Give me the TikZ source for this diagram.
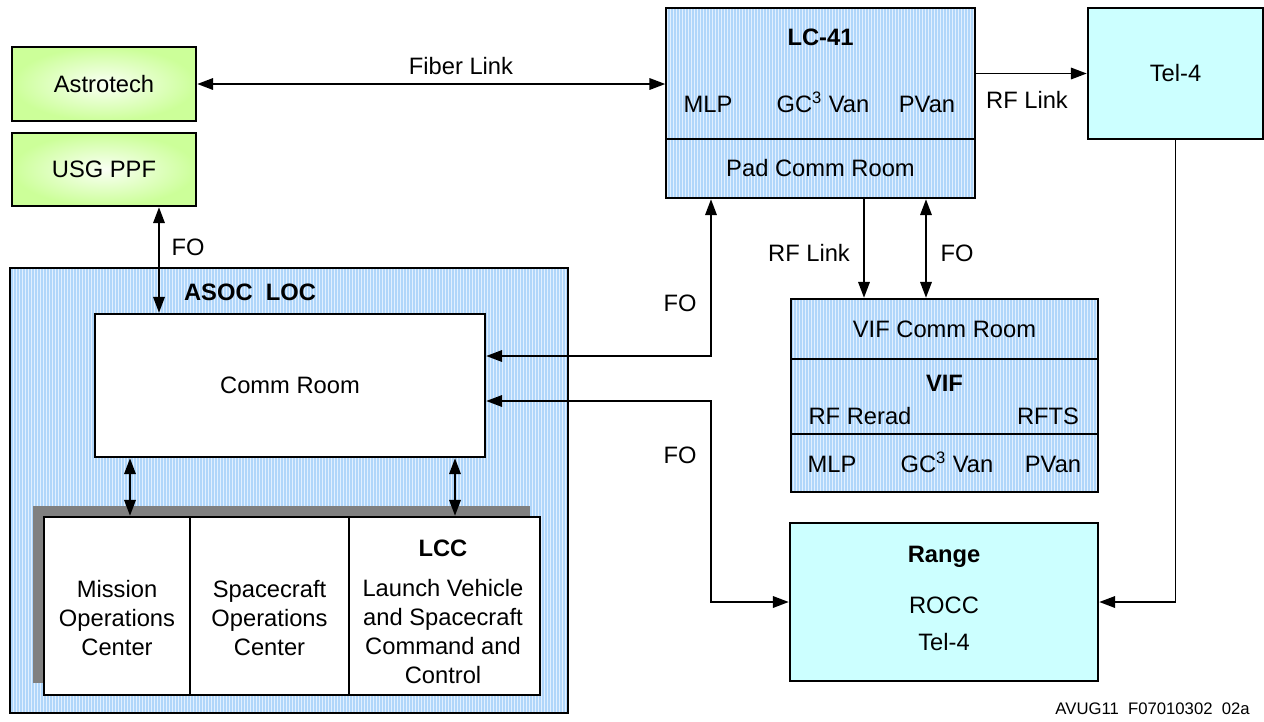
\documentclass[tikz,border=0pt]{standalone}
\usepackage{fontspec}
\setmainfont{Liberation Sans}
\usetikzlibrary{arrows.meta,positioning,patterns.meta}
\definecolor{PadBlue}{HTML}{B0D6FA}
\definecolor{PadLight}{HTML}{E2F0FF}
\definecolor{AstroGreen}{HTML}{CCFF99}
\definecolor{RangeCyan}{HTML}{CCFFFF}
\definecolor{ShadowGray}{HTML}{808080}

\begin{document}
\fontsize{13.5}{16.5}\selectfont
\begin{tikzpicture}[
  box/.style={draw,line width=1.4pt,inner sep=0pt,align=center},
  hatchbox/.style={box,preaction={fill=PadLight},pattern={Lines[angle=90,distance=1.70717pt,line width=0.8pt]},pattern color=PadBlue},
  greenbox/.style={box,inner color=AstroGreen!10,outer color=AstroGreen},
  cyanbox/.style={box,fill=RangeCyan},
  whitebox/.style={box,fill=white},
  rowtext/.style={text height=1.9ex,text depth=0.4ex},
  link/.style={line width=1.1pt,-{Triangle[length=9pt,width=6.5pt]}},
  duplex/.style={line width=1.1pt,{Triangle[length=9pt,width=6.5pt]}-{Triangle[length=9pt,width=6.5pt]}}
]
\useasboundingbox (0,0) rectangle (25.28,-14.42);

\node[greenbox,minimum width=3.68cm,minimum height=1.48cm] (astrotech) at (2.08,-1.68) {Astrotech};
\node[greenbox,minimum width=3.68cm,minimum height=1.46cm] (usgppf) at (2.08,-3.39) {USG PPF};

\node[hatchbox,minimum width=6.18cm,minimum height=2.62cm] (lcpad) at (16.41,-1.47) {};
\node[hatchbox,minimum width=6.18cm,minimum height=1.18cm] (padcomm) at (16.41,-3.37) {Pad Comm Room};
\node[font=\bfseries] (lctitle) at (16.41,-0.74) {LC-41};
\node[rowtext] (lcmlp) at (14.16,-2.06) {MLP};
\node[rowtext] (lcgc) at (16.46,-2.06) {GC\textsuperscript{3} Van};
\node[rowtext] (lcpvan) at (18.54,-2.06) {PVan};

\node[cyanbox,minimum width=3.5cm,minimum height=2.62cm] (telfour) at (23.51,-1.47) {Tel-4};

\node[hatchbox,minimum width=6.14cm,minimum height=1.20cm] (vifcomm) at (18.89,-6.58) {VIF Comm Room};
\node[hatchbox,minimum width=6.14cm,minimum height=1.50cm] (vifmid) at (18.89,-7.93) {};
\node[hatchbox,minimum width=6.14cm,minimum height=1.16cm] (vifvans) at (18.89,-9.26) {};
\node[font=\bfseries] (viftitle) at (18.89,-7.66) {VIF};
\node[rowtext] (vifrerad) at (17.2,-8.3) {RF Rerad};
\node[rowtext] (vifrfts) at (20.96,-8.3) {RFTS};
\node[rowtext] (vifmlp) at (16.64,-9.26) {MLP};
\node[rowtext] (vifgc) at (18.94,-9.26) {GC\textsuperscript{3} Van};
\node[rowtext] (vifpvan) at (21.06,-9.26) {PVan};

\node[cyanbox,minimum width=6.16cm,minimum height=3.16cm] (rangebox) at (18.88,-12.04) {};
\node[font=\bfseries] (rangetitle) at (18.88,-11.14) {Range};
\node (rangerocc) at (18.88,-12.1) {ROCC};
\node (rangetel) at (18.88,-12.84) {Tel-4};

\node[hatchbox,minimum width=11.16cm,minimum height=8.9cm] (asoc) at (5.78,-9.81) {};
\node[font=\bfseries] (asoctitle) at (5.0,-5.84) {ASOC\ \ LOC};
\node[whitebox,minimum width=7.8cm,minimum height=2.86cm] (commroom) at (5.8,-7.71) {Comm Room};

\fill[ShadowGray] (0.66,-10.12) rectangle (10.6,-13.66);
\node[whitebox,minimum width=2.92cm,minimum height=3.56cm] (moc) at (2.34,-12.12) {};
\node[whitebox,minimum width=3.18cm,minimum height=3.56cm] (soc) at (5.39,-12.12) {};
\node[whitebox,minimum width=3.82cm,minimum height=3.56cm] (lcc) at (8.89,-12.12) {};
\node[align=center] (moctext) at (2.34,-12.36) {Mission\\Operations\\Center};
\node[align=center] (soctext) at (5.39,-12.36) {Spacecraft\\Operations\\Center};
\node[font=\bfseries] (lcctitle) at (8.86,-10.96) {LCC};
\node[align=center] (lcctext) at (8.86,-12.63) {Launch Vehicle\\and Spacecraft\\Command and\\Control};

\coordinate (usgfo) at (3.18,0);
\coordinate (rfdown) at (17.28,0);
\coordinate (fodown) at (18.52,0);
\coordinate (foup) at (14.22,-7.12);
\coordinate (folow) at (14.22,-8.02);
\coordinate (mocx) at (2.6,0);
\coordinate (lccx) at (9.1,0);

\draw[duplex] (astrotech.east) -- (astrotech.east -| lcpad.west);
\draw[link] (lcpad.east) -- (telfour.west);
\draw[link] (telfour.south) |- (rangebox.east);
\draw[duplex] (usgppf.south -| usgfo) -- (commroom.north -| usgfo);
\draw[link] (padcomm.south -| rfdown) -- (vifcomm.north -| rfdown);
\draw[duplex] (padcomm.south -| fodown) -- (vifcomm.north -| fodown);
\draw[duplex] (padcomm.south -| foup) -- (foup) -- (commroom.east |- foup);
\draw[duplex] (commroom.east |- folow) -- (folow) |- (rangebox.west);
\draw[duplex] (commroom.south -| mocx) -- (moc.north -| mocx);
\draw[duplex] (commroom.south -| lccx) -- (lcc.north -| lccx);

\node (fiberlabel) at (9.22,-1.32) {Fiber Link};
\node (rflabel) at (20.54,-2.0) {RF Link};
\node (usglabel) at (3.76,-4.94) {FO};
\node (rfvlabel) at (16.18,-5.06) {RF Link};
\node (fovlabel) at (19.14,-5.06) {FO};
\node (fouplabel) at (13.6,-6.06) {FO};
\node (folowlabel) at (13.6,-9.1) {FO};
\node[font=\fontsize{9.5}{11}\selectfont,anchor=east] (figid) at (25.16,-14.18) {AVUG11\ \ F07010302\ \ 02a};
\end{tikzpicture}
\end{document}
